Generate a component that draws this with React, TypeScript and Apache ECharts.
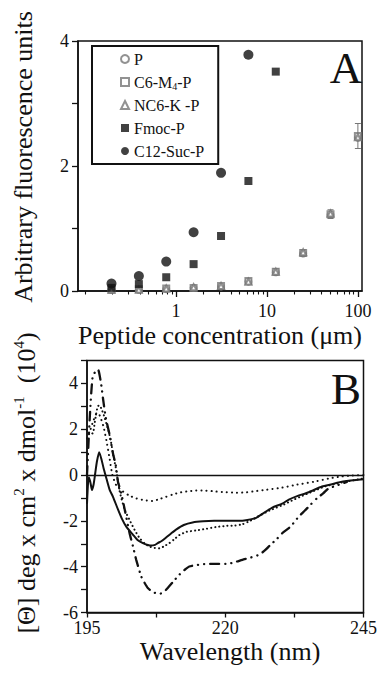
import React, { useEffect, useRef } from 'react';
import * as echarts from 'echarts';

// ---------- Panel A data ----------
const concentrations = [0.195, 0.39, 0.78, 1.56, 3.125, 6.25, 12.5, 25, 50, 100];
const pValues = [0.02, 0.02, 0.03, 0.05, 0.07, 0.15, 0.3, 0.6, 1.22, 2.45];
const c6m4Values = [0.02, 0.03, 0.04, 0.05, 0.08, 0.16, 0.31, 0.61, 1.23, 2.48];
const nc6kValues = [0.02, 0.02, 0.04, 0.06, 0.08, 0.15, 0.31, 0.62, 1.24, 2.46];
const c6m4Errors = [0.01, 0.01, 0.015, 0.02, 0.03, 0.04, 0.05, 0.05, 0.07, 0.2];
const fmocConc = [0.195, 0.39, 0.78, 1.56, 3.125, 6.25, 12.5];
const fmocValues = [0.05, 0.11, 0.22, 0.43, 0.88, 1.76, 3.51];
const c12Conc = [0.195, 0.39, 0.78, 1.56, 3.125, 6.25];
const c12SucValues = [0.12, 0.24, 0.47, 0.94, 1.89, 3.78];

const seriesNamesA = ['P', 'C6-M4-P', 'NC6-K -P', 'Fmoc-P', 'C12-Suc-P'];
const xMajorTicksA = [1, 10, 100];
const xMinorTicksA = [0.1, 0.2, 0.3, 0.4, 0.5, 0.6, 0.7, 0.8, 0.9, 2, 3, 4, 5, 6, 7, 8, 9, 20, 30, 40, 50, 60, 70, 80, 90];
const xRangeA = [0.0835, 111];
const yRangeA = [0, 4];

// ---------- Panel B data ----------
const solidWl = [195.0, 195.3, 195.6, 195.9, 196.2, 196.5, 196.8, 197.2, 197.6, 198.0, 198.4, 199.1, 199.7, 200.6, 201.3, 202.1, 203.3, 204.2, 205.1, 206.0, 206.6, 207.3, 207.8, 208.5, 209.3, 210.2, 211.1, 212.5, 214.1, 216.0, 218.0, 220.7, 222.5, 224.0, 225.5, 227.0, 228.5, 230.3, 231.5, 233.0, 235.1, 237.5, 239.3, 240.5, 242.3, 245.0];
const solidVal = [-1.25, -0.1, -0.3, -0.65, -0.4, 0.1, 0.6, 1.0, 0.7, 0.3, -0.05, -0.65, -0.95, -1.5, -1.9, -2.25, -2.6, -2.85, -2.97, -3.05, -3.08, -3.05, -2.97, -2.88, -2.73, -2.55, -2.38, -2.18, -2.07, -2.02, -2.0, -2.0, -2.0, -1.96, -1.88, -1.65, -1.42, -1.25, -1.07, -0.92, -0.75, -0.5, -0.4, -0.32, -0.25, -0.18];

const fineDotWl = [195.0, 195.5, 196.1, 196.4, 196.9, 197.2, 197.6, 198.2, 198.8, 199.3, 199.8, 200.3, 200.9, 201.8, 202.7, 203.6, 204.5, 205.4, 206.3, 207.2, 208.1, 209.0, 209.9, 210.8, 211.7, 213.0, 214.7, 216.5, 218.3, 220.1, 221.8, 223.1, 224.5, 226.0, 228.0, 230.3, 232.0, 234.0, 236.0, 238.0, 240.0, 242.0, 245.0];
const fineDotVal = [1.95, 1.75, 1.85, 2.3, 2.97, 3.05, 2.9, 2.5, 2.0, 1.5, 0.8, 0.2, -0.7, -1.5, -1.96, -2.39, -2.75, -2.98, -3.12, -3.18, -3.2, -3.1, -2.97, -2.8, -2.62, -2.48, -2.42, -2.35, -2.27, -2.22, -2.2, -2.15, -2.0, -1.8, -1.55, -1.32, -1.12, -0.9, -0.7, -0.5, -0.38, -0.28, -0.15];

const sparseDotWl = [195.0, 195.5, 196.2, 196.8, 197.3, 198.0, 198.6, 199.1, 199.6, 200.3, 201.5, 202.7, 203.9, 205.4, 206.9, 208.1, 209.3, 210.5, 211.7, 213.2, 214.7, 216.5, 218.3, 220.1, 222.0, 223.7, 225.5, 227.5, 230.3, 233.0, 236.3, 239.0, 241.1, 243.0, 245.0];
const sparseDotVal = [1.6, 1.9, 2.4, 2.7, 2.6, 2.1, 1.4, 0.7, 0.0, -0.45, -0.72, -0.9, -1.02, -1.1, -1.13, -1.05, -0.95, -0.85, -0.77, -0.71, -0.68, -0.68, -0.72, -0.75, -0.77, -0.76, -0.7, -0.64, -0.55, -0.42, -0.28, -0.14, -0.06, -0.02, 0.0];

const dashDotWl = [195.0, 195.5, 196.0, 196.6, 197.0, 197.6, 197.9, 198.4, 199.1, 199.7, 200.2, 200.6, 201.2, 201.9, 202.7, 203.3, 203.9, 204.8, 205.4, 206.0, 207.0, 208.1, 208.9, 209.6, 210.6, 211.7, 212.6, 213.5, 215.0, 216.5, 218.3, 220.1, 221.5, 223.1, 224.6, 226.1, 227.2, 228.2, 229.3, 230.3, 231.8, 233.3, 234.4, 235.4, 236.6, 237.7, 238.7, 239.9, 241.0, 242.0];
const dashDotVal = [0.0, 2.5, 4.25, 4.55, 4.6, 3.9, 3.33, 2.5, 1.74, 0.94, 0.43, -0.29, -0.8, -1.6, -2.54, -3.1, -3.7, -4.42, -4.7, -4.93, -5.12, -5.19, -5.1, -4.93, -4.65, -4.35, -4.15, -3.99, -3.92, -3.88, -3.88, -3.88, -3.82, -3.7, -3.6, -3.48, -3.28, -3.04, -2.8, -2.54, -2.25, -1.81, -1.55, -1.3, -1.01, -0.8, -0.58, -0.48, -0.38, -0.3];

const xTicksB = [195, 207.5, 220, 232.5, 245];
const xLabelsB = [195, 220, 245];
const xRangeB = [195, 245];
const yRangeB = [-6, 5];

const FONT = 'Liberation Serif, DejaVu Serif, serif';
const INK = '#111';
const GREY = '#777';

const log10 = (v: number) => Math.log10(v);
const pairs = (xs: number[], ys: number[], fx = (v: number) => v) => xs.map((x, i) => [fx(x), ys[i]]);

export default function App() {
  const ref = useRef<HTMLDivElement>(null);

  useEffect(() => {
    if (!ref.current) return;
    const chart = echarts.init(ref.current, undefined, { renderer: 'svg' });

    const axisLineStyle = { color: INK, width: 1.5 };
    const labelStyle = { color: INK, fontSize: 18, fontFamily: FONT };

    const option: any = {
      animation: false,
      backgroundColor: '#fff',
      grid: [
        { left: 78, top: 41, width: 284, height: 250, show: true, borderColor: INK, borderWidth: 1.5, backgroundColor: 'transparent' },
        { left: 87, top: 360.5, width: 278, height: 252, show: true, borderColor: INK, borderWidth: 1.5, backgroundColor: 'transparent' },
      ],
      xAxis: [
        {
          gridIndex: 0, type: 'value', position: 'bottom',
          min: log10(xRangeA[0]), max: log10(xRangeA[1]),
          axisLine: { show: true, onZero: false, lineStyle: axisLineStyle },
          axisTick: { show: true, customValues: xMajorTicksA.map(log10), length: 6, lineStyle: { color: INK, width: 1.3 } },
          axisLabel: { customValues: xMajorTicksA.map(log10), margin: 11, ...labelStyle, formatter: (v: number) => String(Math.round(Math.pow(10, v))) },
          splitLine: { show: false },
        },
        {
          gridIndex: 0, type: 'value', position: 'bottom', offset: 0,
          min: log10(xRangeA[0]), max: log10(xRangeA[1]),
          axisLine: { show: false },
          axisTick: { show: true, customValues: xMinorTicksA.map(log10), length: 3.5, lineStyle: { color: INK, width: 1.1 } },
          axisLabel: { show: false },
          splitLine: { show: false },
        },
        {
          gridIndex: 1, type: 'value', position: 'bottom',
          min: xRangeB[0], max: xRangeB[1],
          axisLine: { show: true, onZero: false, lineStyle: axisLineStyle },
          axisTick: { show: true, customValues: xTicksB, length: 5, lineStyle: { color: INK, width: 1.3 } },
          axisLabel: { customValues: xLabelsB, margin: 6, ...labelStyle },
          splitLine: { show: false },
        },
      ],
      yAxis: [
        {
          gridIndex: 0, type: 'value', min: yRangeA[0], max: yRangeA[1], interval: 1,
          axisLine: { show: true, onZero: false, lineStyle: axisLineStyle },
          axisTick: { show: true, length: 6, lineStyle: { color: INK, width: 1.3 } },
          axisLabel: { margin: 9, ...labelStyle, formatter: (v: number) => (v % 2 === 0 ? String(v) : '') },
          splitLine: { show: false },
        },
        {
          gridIndex: 1, type: 'value', min: yRangeB[0], max: yRangeB[1], interval: 1,
          axisLine: { show: true, onZero: false, lineStyle: axisLineStyle },
          axisTick: { show: true, length: 6, lineStyle: { color: INK, width: 1.3 } },
          axisLabel: { margin: 9, ...labelStyle, formatter: (v: number) => (v % 2 === 0 ? String(v) : '') },
          splitLine: { show: false },
        },
      ],
      legend: {
        data: seriesNamesA,
        orient: 'vertical',
        left: 92, top: 46,
        padding: [4, 14, 4, 28],
        itemGap: 5,
        itemWidth: 8, itemHeight: 8,
        borderColor: INK, borderWidth: 2,
        backgroundColor: '#fff',
        selectedMode: false,
        textStyle: {
          color: INK, fontSize: 16, fontFamily: FONT, lineHeight: 18,
          rich: {
            n: { fontSize: 16, fontFamily: FONT, color: INK, lineHeight: 18 },
            sub: { fontSize: 10, fontFamily: FONT, color: INK, lineHeight: 10, verticalAlign: 'bottom' },
          },
        },
        formatter: (name: string) => (name === 'C6-M4-P' ? '{n|C6-M}{sub|4}{n|-P}' : '{n|' + name + '}'),
      },
      series: [
        {
          name: 'P', type: 'scatter', xAxisIndex: 0, yAxisIndex: 0,
          symbol: 'emptyCircle', symbolSize: 6,
          itemStyle: { color: GREY, borderColor: GREY, borderWidth: 1 },
          data: pairs(concentrations, pValues, log10),
        },
        {
          name: 'C6-M4-P', type: 'scatter', xAxisIndex: 0, yAxisIndex: 0,
          symbol: 'emptyRect', symbolSize: 6,
          itemStyle: { color: GREY, borderColor: GREY, borderWidth: 1 },
          data: pairs(concentrations, c6m4Values, log10),
        },
        {
          name: 'NC6-K -P', type: 'scatter', xAxisIndex: 0, yAxisIndex: 0,
          symbol: 'emptyTriangle', symbolSize: 6,
          itemStyle: { color: GREY, borderColor: GREY, borderWidth: 1 },
          data: pairs(concentrations, nc6kValues, log10),
        },
        {
          name: 'errors', type: 'custom', xAxisIndex: 0, yAxisIndex: 0,
          encode: { x: 0, y: 1 },
          data: concentrations.map((c, i) => [log10(c), c6m4Values[i], c6m4Errors[i]]),
          renderItem: (_p: any, api: any) => {
            const x = api.value(0), y = api.value(1), e = api.value(2);
            const t = api.coord([x, y + e]);
            const b = api.coord([x, y - e]);
            const w = 3;
            const st = { stroke: GREY, lineWidth: 1 };
            return {
              type: 'group',
              children: [
                { type: 'line', shape: { x1: t[0], y1: t[1], x2: b[0], y2: b[1] }, style: st },
                { type: 'line', shape: { x1: t[0] - w, y1: t[1], x2: t[0] + w, y2: t[1] }, style: st },
                { type: 'line', shape: { x1: b[0] - w, y1: b[1], x2: b[0] + w, y2: b[1] }, style: st },
              ],
            };
          },
        },
        {
          name: 'Fmoc-P', type: 'scatter', xAxisIndex: 0, yAxisIndex: 0,
          symbol: 'rect', symbolSize: 8,
          itemStyle: { color: INK },
          data: pairs(fmocConc, fmocValues, log10),
        },
        {
          name: 'C12-Suc-P', type: 'scatter', xAxisIndex: 0, yAxisIndex: 0,
          symbol: 'circle', symbolSize: 10,
          itemStyle: { color: INK },
          data: pairs(c12Conc, c12SucValues, log10),
        },
        {
          name: 'solid', type: 'line', xAxisIndex: 2, yAxisIndex: 1,
          showSymbol: false, symbol: 'none', smooth: 0.2,
          lineStyle: { color: INK, width: 2 },
          data: pairs(solidWl, solidVal),
          markLine: {
            silent: true, symbol: 'none', label: { show: false },
            lineStyle: { color: INK, type: 'solid', width: 1.3 },
            data: [{ yAxis: 0 }],
          },
        },
        {
          name: 'fineDot', type: 'line', xAxisIndex: 2, yAxisIndex: 1,
          showSymbol: false, symbol: 'none', smooth: 0.2,
          lineStyle: { color: INK, width: 2, type: [0.1, 4], cap: 'round' },
          data: pairs(fineDotWl, fineDotVal),
        },
        {
          name: 'sparseDot', type: 'line', xAxisIndex: 2, yAxisIndex: 1,
          showSymbol: false, symbol: 'none', smooth: 0.2,
          lineStyle: { color: INK, width: 2, type: [0.1, 5], cap: 'round' },
          data: pairs(sparseDotWl, sparseDotVal),
        },
        {
          name: 'dashDot', type: 'line', xAxisIndex: 2, yAxisIndex: 1,
          showSymbol: false, symbol: 'none', smooth: 0.2,
          lineStyle: { color: INK, width: 2.3, type: [9, 6, 0.1, 6, 0.1, 6], cap: 'round' },
          data: pairs(dashDotWl, dashDotVal),
        },
      ],
      graphic: [
        { type: 'text', x: 23, y: 157, rotation: Math.PI / 2, style: { text: 'Arbitrary fluorescence units', fontSize: 26, fontFamily: FONT, fill: INK, textAlign: 'center', textVerticalAlign: 'middle' } },
        { type: 'text', x: 220, y: 335, style: { text: 'Peptide concentration (\u03bcm)', fontSize: 26, fontFamily: FONT, fill: INK, textAlign: 'center', textVerticalAlign: 'middle' } },
        { type: 'text', x: 346, y: 68, style: { text: 'A', fontSize: 45, fontFamily: FONT, fill: INK, textAlign: 'center', textVerticalAlign: 'middle' } },
        { type: 'text', x: 346, y: 389, style: { text: 'B', fontSize: 45, fontFamily: FONT, fill: INK, textAlign: 'center', textVerticalAlign: 'middle' } },
        {
          type: 'text', x: 26, y: 483, rotation: Math.PI / 2,
          style: {
            text: '{n|[\u0398] deg x cm}{s|2}{n| x dmol}{s|-1}{n|  (10}{s|4}{n|)}',
            fill: INK, textAlign: 'center', textVerticalAlign: 'middle',
            rich: {
              n: { fontSize: 26, fontFamily: FONT, fill: INK, lineHeight: 30 },
              s: { fontSize: 15, fontFamily: FONT, fill: INK, lineHeight: 20, verticalAlign: 'top' },
            },
          },
        },
        { type: 'text', x: 230, y: 651, style: { text: 'Wavelength (nm)', fontSize: 26, fontFamily: FONT, fill: INK, textAlign: 'center', textVerticalAlign: 'middle' } },
      ],
    };

    chart.setOption(option);
    return () => chart.dispose();
  }, []);

  return <div ref={ref} style={{ position: 'fixed', left: 0, top: 0, width: 380, height: 674, background: '#fff' }} />;
}
